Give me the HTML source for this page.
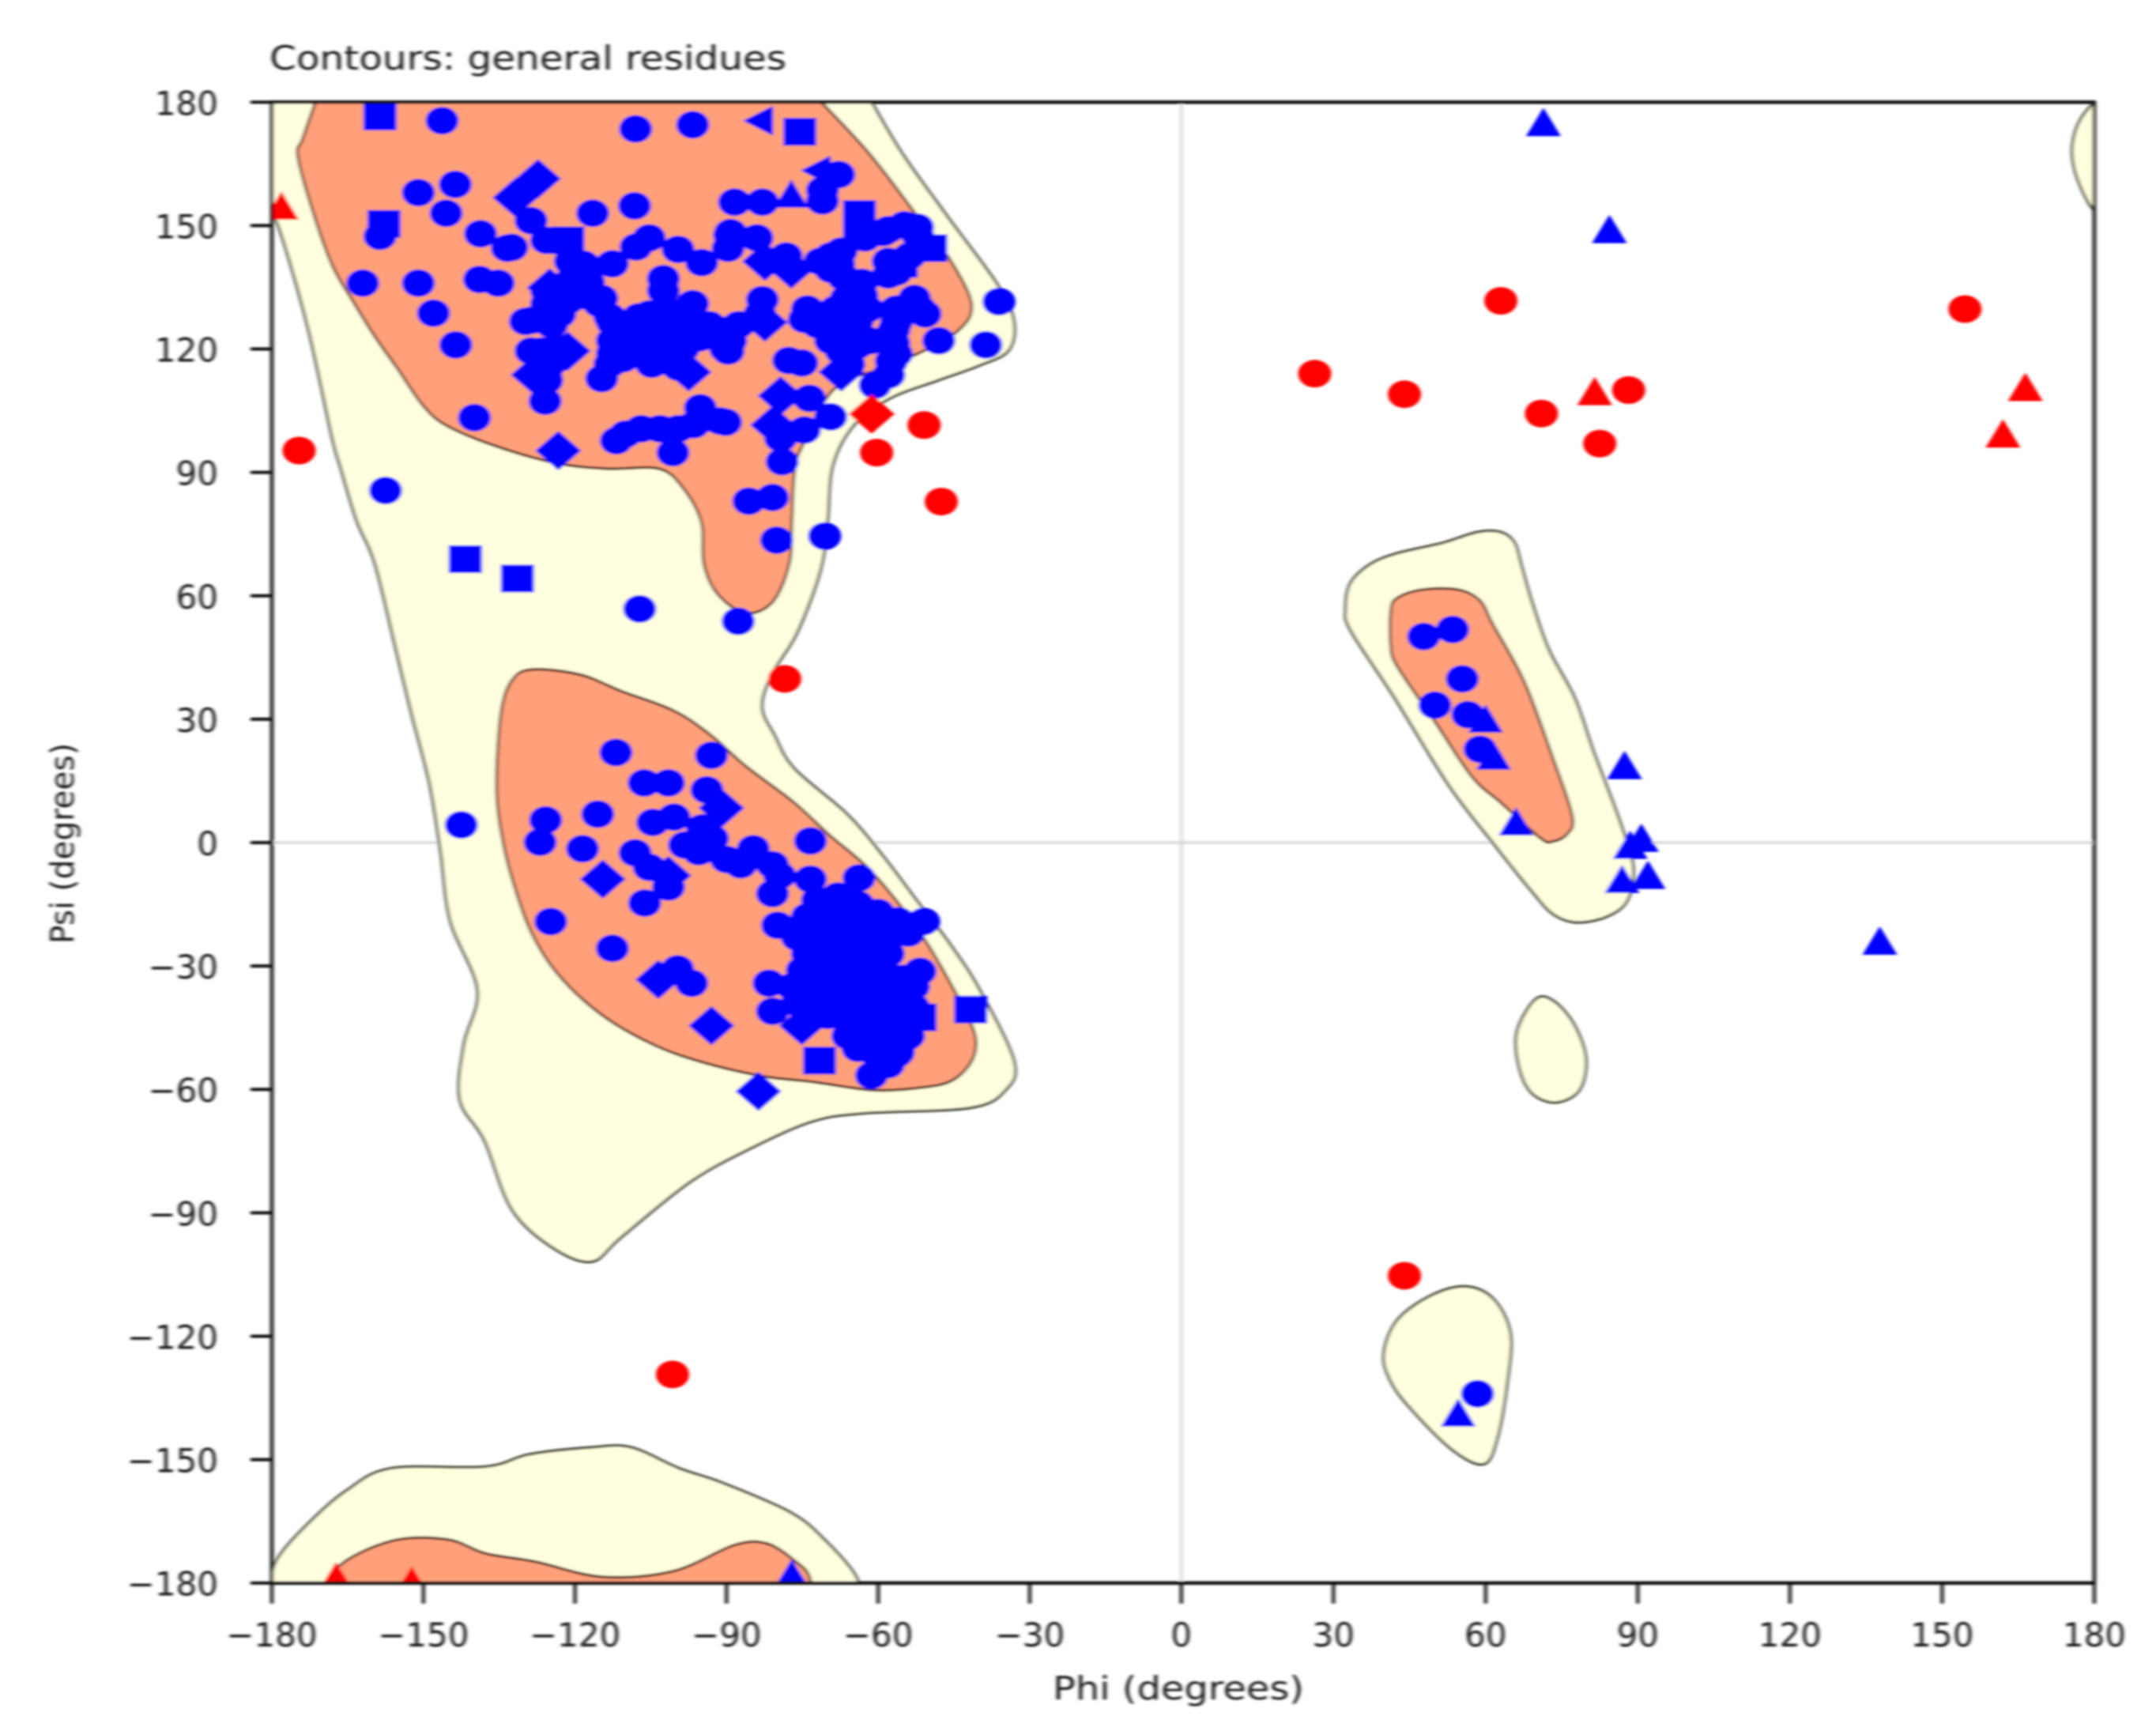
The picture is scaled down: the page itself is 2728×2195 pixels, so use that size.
<!DOCTYPE html>
<html lang="en">
<head>
<meta charset="utf-8">
<title>Ramachandran plot - general residues</title>
<style>
html,body{margin:0;padding:0;background:#fff;width:2728px;height:2195px;overflow:hidden}
svg{display:block}
text{font-family:"DejaVu Sans","Liberation Sans",sans-serif;fill:#1c1c1c}
</style>
</head>
<body>
<svg id="chart" xmlns="http://www.w3.org/2000/svg" width="2728" height="2195" viewBox="0 0 2728 2195">
<defs>
<filter id="soft" x="0" y="0" width="2728" height="2195" filterUnits="userSpaceOnUse"><feGaussianBlur stdDeviation="2 1.3"/></filter>
<clipPath id="plot-clip"><rect x="344" y="129" width="2306" height="1873"/></clipPath>
</defs>
<g id="root" filter="url(#soft)">
<text x="341" y="88" font-size="42" textLength="654" lengthAdjust="spacingAndGlyphs">Contours: general residues</text>
<text x="1491" y="2150" font-size="41" text-anchor="middle" textLength="318" lengthAdjust="spacingAndGlyphs">Phi (degrees)</text>
<text transform="translate(93,1067) rotate(-90)" font-size="41" text-anchor="middle" textLength="254" lengthAdjust="spacingAndGlyphs">Psi (degrees)</text>
<g id="grid"></g>
<g id="contours" clip-path="url(#plot-clip)"></g>
<g id="points" clip-path="url(#plot-clip)"></g>
<g id="axes"></g>
</g>
</svg>
<script>
// ---------- axis ticks ----------
const phiTicks = [-180,-150,-120,-90,-60,-30,0,30,60,90,120,150,180];
const psiTicks = [-180,-150,-120,-90,-60,-30,0,30,60,90,120,150,180];

// ---------- contour outlines, [phi, psi] ----------
const outerMain = [[-64,186],[-55.7,168.4],[-46.2,152.1],[-36.4,135.7],[-33.1,126.7],[-34.2,119.6],[-39.9,116],[-48.3,112.3],[-57.8,107.9],[-64.9,101.3],[-69,91.6],[-70,78.2],[-71.4,66.2],[-76,51.1],[-81,41],[-83,33],[-80.5,26],[-76.6,18],[-66.2,7],[-59.2,-3],[-52.4,-14],[-45.6,-25],[-39.9,-35.8],[-33.1,-53.1],[-34.8,-60.2],[-41.8,-64.5],[-62.7,-65.8],[-73,-67.8],[-85,-74.2],[-97.2,-82.5],[-110.8,-95.9],[-116.7,-101.9],[-124.3,-98.6],[-132.5,-89.2],[-137.9,-72.5],[-142.8,-62.5],[-142,-49.1],[-139.3,-35.8],[-144.7,-19],[-146.6,-2.3],[-148.8,14.4],[-152.3,31.1],[-155.6,47.8],[-159.6,67.8],[-163.2,78.2],[-166.4,91.2],[-168.1,98.6],[-172.9,125.3],[-178.6,149.4],[-181.4,154.7],[-186,170],[-186,186]];
const outerBottom = [[-186,-186],[-181.4,-182.8],[-178.9,-174.1],[-172.7,-165.4],[-165.1,-157.4],[-156.4,-152.1],[-137.7,-151.7],[-129,-148.7],[-116.7,-147],[-108.9,-147],[-99.4,-152.1],[-90.7,-155.7],[-77.4,-162.8],[-70.9,-169.1],[-64.3,-178.5],[-63.3,-186]];
const outerTopRight = [[183,184],[177.6,176.5],[175.7,169.8],[176.2,163.1],[178.9,155.4],[182,151]];
const outerLeftHand = [[33.3,63],[37,67.5],[42.1,70.2],[51.6,72.9],[58.4,75.5],[63,75.5],[65.7,72.9],[67.1,67.2],[69.2,58.2],[72.5,46.8],[77.6,35.1],[81.2,22.4],[86.3,5.7],[89.1,-5.7],[88,-14],[83.9,-18],[77.9,-19.4],[73.3,-17.4],[69.2,-12],[61.4,0],[52.7,14],[42.1,35.1],[33.4,51.5],[32.4,57]];
const outerSmallIsland = [[69.8,-38.1],[73.3,-38.4],[77.4,-44.1],[79.8,-52.5],[78.5,-60.2],[73.8,-63.2],[69,-60.8],[66.5,-54.1],[66.2,-45.8]];
const outerLowerIsland = [[39.9,-124.3],[42.6,-116],[49.4,-110],[56.2,-107.9],[61.6,-111],[64.9,-119.3],[64.3,-131],[62.4,-144.4],[59.7,-151.1],[53.5,-147.7],[45.3,-137.7],[41.3,-131]];
const coreBeta = [[-76,186],[-62.4,168.4],[-51.9,151.7],[-45.6,141.4],[-41.5,130.7],[-44.3,124.3],[-51.9,119],[-59.2,115.3],[-68.7,110.3],[-75.2,95.9],[-76.6,89.6],[-77.1,77.9],[-77.6,67.8],[-80.9,58.5],[-86.3,55.8],[-91.8,60.5],[-94.5,67.8],[-95,77.9],[-98.6,86.2],[-103.4,90.9],[-113.5,90.9],[-123.5,92.2],[-135.2,96.2],[-145.3,101.3],[-150.1,106.3],[-155,115],[-159.6,123],[-164.3,132.3],[-167.8,139.7],[-171,150.1],[-174.8,166.4],[-173.8,171.4],[-170.5,182.8],[-169,186]];
const coreAlpha = [[-128.4,42.1],[-132.5,39.4],[-134.7,31.1],[-135.5,12.7],[-134.1,-0.7],[-131.7,-11.7],[-128.4,-22.4],[-123.3,-32.1],[-114.8,-41.8],[-104.5,-49.1],[-94.5,-53.5],[-82.8,-56.8],[-72.8,-58.2],[-60.8,-60.2],[-51,-59.5],[-45.3,-57.8],[-41.5,-53.1],[-40.7,-47.5],[-42.9,-40.8],[-45.3,-35.1],[-49.7,-25.7],[-54.3,-17.4],[-61.9,-6.3],[-69.8,2],[-76.6,9.7],[-86.3,18.7],[-93.1,26.1],[-100.5,32.1],[-110.8,36.8],[-118.9,40.8]];
const coreBottom = [[-168.3,-186],[-167.2,-176.5],[-156.4,-169.8],[-145.3,-169.4],[-137.7,-172.8],[-127.9,-174.8],[-114.6,-178.5],[-100.5,-177.1],[-88.5,-170.8],[-82,-170.4],[-76.3,-174.8],[-73.6,-178.5],[-72.8,-186]];
const coreLeftHand = [[41.3,56.5],[42.6,59.5],[47.5,61.5],[54.6,61.5],[58.9,58.8],[61.4,53.1],[67.6,39.1],[73.3,20.4],[77.1,6.3],[76,2],[73.3,0.3],[70.9,1],[63,9.7],[57.3,16],[50,29.4],[42.6,42.8],[41.3,47.8]];

// ---------- residues, [phi, psi] ----------
const blueCircleBeta = [[-146.3,175.5],[-108,173.5],[-96.7,174.5],[-151,158],[-143.7,160],[-145.5,153],[-138.7,148],[-132.5,144.7],[-158.6,147.4],[-162,136],[-151,136],[-148,128.7],[-143.6,121],[-138.9,136.9],[-135.2,136],[-139.9,103.3],[-128.5,127],[-128.7,151.2],[-116.5,153],[-108.2,154.8],[-133.4,144.5],[-125.6,146.4],[-125.9,107.3],[-114.7,112.8],[-112.6,140.7],[-107.9,144.8],[-105.3,147],[-99.6,144.2],[-94.9,141],[-89.7,144.5],[-89.4,147.7],[-102.5,137.1],[-102.5,134.2],[-96.7,131],[-90.2,120.1],[-95.2,105.7],[-91.3,102.5],[-96.5,101.6],[-111.8,97.7],[-110,99.3],[-106.9,100.6],[-103.2,100.6],[-100.6,94.8],[-99.6,100.6],[-120.9,141.3],[-118.8,136.8],[-114.7,132.3],[-118.3,133],[-125.6,131],[-123,128.5],[-112.6,126.5],[-112.6,122],[-112,117.6],[-124,120],[-126.6,119.5],[-125.6,115],[-125.6,112.4],[-107.4,125.3],[-104.8,124],[-102.2,127.8],[-104.8,116.9],[-100.6,118.9],[-98.6,120.1],[-99.6,115.6],[-96.5,125.3],[-94.4,125.9],[-91.3,124.6],[-129.8,126.7]];
const blueCircleBetaFill = [[-118.3,140.6],[-120.4,137.4],[-117.3,136.2],[-123,134.2],[-125.6,134.2],[-121.4,131.7],[-115.2,131],[-113.1,127.8],[-124.6,125.9],[-112.1,122.7],[-112.6,118.9],[-110.5,117.6],[-113.1,116.3],[-123.5,117.6],[-127.2,118.9],[-122,120.1],[-128.7,119.5],[-126.6,112.4],[-110,125.3],[-107.4,127.8],[-105.3,128.5],[-103.2,126.5],[-101.2,129.1],[-99.6,125.3],[-97.5,127.2],[-102.2,122.7],[-104.8,120.1],[-102.7,118.9],[-98,121.4],[-101.2,116.9],[-104.8,116.3],[-95.4,122.7],[-93.4,125.9],[-89.2,124],[-87.6,125.9],[-107.4,121.4],[-109,118.9],[-110.5,122.7],[-74.6,127.2],[-72,125.9],[-68.4,129.7],[-69.4,122],[-67.3,119.5],[-64.2,120.8],[-61.6,122],[-66.3,132.3],[-63.2,136.2],[-66.8,137.4],[-67.8,140.6],[-71.5,141.3],[-62.6,147],[-59,148.3],[-54.8,150.2],[-52.2,149.6],[-58,141.3],[-53.8,142.6],[-56.4,138.7],[-58,138],[-56.4,129.7],[-52.8,132.3],[-50.7,128.5],[-56.9,124.6],[-56.4,118.8]];
const blueCircleBetaRight = [[-67.8,162.4],[-82.9,155.7],[-88.4,155.7],[-71,158.6],[-71,156],[-58,149],[-52.2,147.7],[-67.3,143.8],[-69.4,142.6],[-89.2,148.3],[-84,147],[-78.2,142.6],[-69.4,139.4],[-65.8,136.2],[-63.2,132.9],[-82.9,132],[-83.4,128.5],[-89.2,122],[-89.7,119.5],[-74,129.7],[-73,128.5],[-69.4,128.5],[-66.8,126.5],[-64.2,126.5],[-63.2,122],[-65.8,122],[-62.1,129.7],[-51.7,129.7],[-54.9,129.7],[-56.4,126.5],[-56.9,121.4],[-57.4,117],[-57.9,113.7],[-60.6,111.2],[-48,122],[-38.7,121],[-36.1,131.5],[-77.7,117.2],[-75.1,116.6],[-65.8,116.3],[-73.6,108],[-69.4,103.5],[-74.6,100.3],[-79.3,98.3],[-79,92.6],[-90.2,102.2],[-85.6,83],[-80.9,83.9],[-80.1,73.5],[-70.6,74.5],[-87.7,53.8],[-107.2,56.8],[-157.5,85.6]];
const blueCircleAlpha = [[-111.9,21.9],[-93,21.2],[-106.3,14.5],[-101.5,14.5],[-93.9,12.8],[-115.5,6.9],[-125.8,5.5],[-126.9,0.1],[-118.5,-1.5],[-104.6,4.9],[-100.4,6.2],[-94.8,3.6],[-98.3,-0.6],[-95.5,-2.2],[-92.8,1],[-108.1,-2.5],[-105.3,-6],[-90,-4.1],[-87.2,-5.4],[-84.7,-1.5],[-80.9,-5.4],[-79.5,-8],[-73.4,0.4],[-73.4,-8.9],[-80.9,-12.4],[-63.8,-8.6],[-79.9,-20.1],[-101.5,-10.8],[-106.2,-14.7],[-124.8,-19.2],[-112.6,-25.7],[-99.7,-30.7],[-96.9,-34.2],[-81.6,-34.2],[-80.9,-41],[-51,-19.2],[-51.7,-31.3],[-142.5,4.3]];
const blueCircleHelixCore = [[-72,-14],[-68,-13],[-64,-15],[-60,-17],[-56,-19],[-74,-18],[-70,-17],[-66,-19],[-62,-21],[-58,-22],[-54,-22],[-76,-23],[-72,-22],[-68,-23],[-64,-24],[-60,-25],[-74,-27],[-70,-26],[-66,-27],[-62,-28],[-58,-27],[-75,-31],[-71,-30],[-67,-31],[-63,-32],[-59,-31],[-55,-33],[-77,-35],[-73,-34],[-69,-35],[-65,-36],[-61,-35],[-57,-37],[-53,-35],[-76,-39],[-72,-38],[-68,-39],[-64,-40],[-60,-39],[-56,-41],[-53,-40],[-74,-43],[-70,-42],[-66,-43],[-62,-44],[-58,-44],[-54,-45],[-66,-47],[-62,-48],[-58,-48],[-54,-47],[-64,-50],[-60,-52],[-56,-51],[-61.3,-56.6],[-58,-54],[-56.4,-51.5],[-54.8,-47.7]];
const blueCircleRight = [[47.8,50.1],[53.5,51.8],[55.4,39.8],[50,33.4],[56.5,31.1],[58.9,22.7],[58.4,-134]];
const blueSquares = [[-158.6,176.5],[-75.5,172.8],[-157.8,150.4],[-121.4,146.4],[-63.7,152.8],[-63.7,149.6],[-49.6,144.5],[-55.4,140.7],[-141.7,68.9],[-131.4,64.2],[-71.6,-53],[-41.7,-40.6],[-51.7,-42.5]];
const blueDiamonds = [[-127.3,161.4],[-131.8,156.8],[-125,134.9],[-121.4,119.5],[-128.2,113.7],[-97.5,114.4],[-123.3,95.3],[-77.2,139.4],[-82.4,141.3],[-82.4,126.5],[-67.3,114.4],[-79.3,108.6],[-80.8,101.5],[-91,8.4],[-101.5,-8],[-114.5,-8.9],[-103.5,-33.3],[-93,-44.5],[-83.7,-60.5],[-75.1,-44.5]];
const blueTriangles = [[-77.2,157.6],[60,30],[61.6,21],[66,5],[87.4,18.7],[88.5,-0.7],[90.7,1],[86.9,-9],[92,-8],[137.7,-24],[71.4,175],[84.4,149],[54.6,-138.7],[-77.1,-177.8]];
const blueLeftTriangles = [[-83.6,175.5],[-72.2,163.4]];
const redCircles = [[-174.6,95.3],[-78.5,39.8],[-47.5,82.9],[63,131.7],[26.3,114],[44,109],[71,104.3],[88.2,110],[82.5,97],[154.5,129.7],[44,-105.3],[-100.7,-129.3],[-50.9,101.5],[-60.3,94.8]];
const redTriangles = [[81.5,109.6],[166.4,110.6],[162,99.3],[-178.1,154.7],[-167.3,-178.5],[-152.3,-179.5]];
const redDiamonds = [[-61.3,104.2]];

// ---------- axis functions ----------
function xPos(phi){ return 1494.7 + phi * (phi < 0 ? 6.393 : 6.418); }
function yPos(psi){ return 1066 - psi * 5.204; }

const NS = 'http://www.w3.org/2000/svg';
function make(tag, parent, attrs){
  const el = document.createElementNS(NS, tag);
  Object.keys(attrs).forEach(function(k){ el.setAttribute(k, attrs[k]); });
  parent.appendChild(el);
  return el;
}

// smooth outline through the contour vertices; open outlines close with a straight edge outside the plot
function smoothPath(pts, closed){
  const p = pts.map(function(d){ return [xPos(d[0]), yPos(d[1])]; });
  const n = p.length;
  let d = 'M' + p[0][0].toFixed(1) + ' ' + p[0][1].toFixed(1);
  const last = closed ? n : n - 1;
  for (let i = 0; i < last; i++){
    const b = p[i], c = p[(i + 1) % n];
    const a = closed ? p[(i - 1 + n) % n] : (i > 0 ? p[i - 1] : b);
    const e = closed ? p[(i + 2) % n] : (i + 2 < n ? p[i + 2] : c);
    const c1x = b[0] + (c[0] - a[0]) / 6, c1y = b[1] + (c[1] - a[1]) / 6;
    const c2x = c[0] - (e[0] - b[0]) / 6, c2y = c[1] - (e[1] - b[1]) / 6;
    d += 'C' + c1x.toFixed(1) + ' ' + c1y.toFixed(1) + ' ' + c2x.toFixed(1) + ' ' + c2y.toFixed(1) + ' ' + c[0].toFixed(1) + ' ' + c[1].toFixed(1);
  }
  return d + 'Z';
}

const grid = document.getElementById('grid');
const gridV = make('line', grid, {x1:xPos(0), x2:xPos(0), y1:yPos(180), y2:yPos(-180), stroke:'#d9d9d9', 'stroke-width':3.5});


const gridH = make('line', grid, {x1:xPos(-180), x2:xPos(180), y1:yPos(0), y2:yPos(0), stroke:'#d9d9d9', 'stroke-width':3.5});



const contourLayer = document.getElementById('contours');
function drawContour(pts, closed, fill, stroke, width, name){
  const el = make('path', contourLayer, {d:smoothPath(pts, closed), fill:fill, stroke:stroke, 'stroke-width':width, 'stroke-linejoin':'round'});
  
  
}
const YELLOW = '#fffede', ORANGE = '#ffa07a', OUT = '#4d4d40', IN = '#5a3322';
drawContour(outerMain, false, YELLOW, OUT, 3.4, 'allowed-region-main');
drawContour(outerBottom, false, YELLOW, OUT, 3.4, 'allowed-region-bottom');
drawContour(outerTopRight, false, YELLOW, OUT, 3.4, 'allowed-region-top-right');
drawContour(outerLeftHand, true, YELLOW, OUT, 3.4, 'allowed-region-left-handed');
drawContour(outerSmallIsland, true, YELLOW, OUT, 3.4, 'allowed-region-island');
drawContour(outerLowerIsland, true, YELLOW, OUT, 3.4, 'allowed-region-lower');
drawContour(coreBeta, false, ORANGE, IN, 3.4, 'favoured-region-beta');
drawContour(coreAlpha, true, ORANGE, IN, 3.4, 'favoured-region-alpha');
drawContour(coreBottom, false, ORANGE, IN, 3.4, 'favoured-region-bottom');
drawContour(coreLeftHand, true, ORANGE, IN, 3.4, 'favoured-region-left-handed');

const pointLayer = document.getElementById('points');
function drawCircles(list, color, name){
  list.forEach(function(d){
    const el = make('ellipse', pointLayer, {cx:xPos(d[0]), cy:yPos(d[1]), rx:21, ry:17.5, fill:color});
    
    
  });
}
function drawSquares(list, color, name){
  list.forEach(function(d){
    const el = make('rect', pointLayer, {x:xPos(d[0]) - 21, y:yPos(d[1]) - 17.5, width:42, height:35, fill:color});
    
    
  });
}
function drawPoly(list, color, shape, name){
  list.forEach(function(d){
    const cx = xPos(d[0]), cy = yPos(d[1]);
    const pts = shape.map(function(s){ return (cx + s[0]).toFixed(1) + ',' + (cy + s[1]).toFixed(1); }).join(' ');
    const el = make('polygon', pointLayer, {points:pts, fill:color});
    
    
  });
}
const DIAMOND = [[0,-25],[29,0],[0,25],[-29,0]];
const TRI_UP = [[0,-19],[22,17],[-22,17]];
const TRI_LEFT = [[-20,0],[18,-19],[18,19]];

drawCircles(blueCircleBeta, '#0000ff', 'blue-circle-residue');
drawCircles(blueCircleBetaFill, '#0000ff', 'blue-circle-residue');
drawCircles(blueCircleBetaRight, '#0000ff', 'blue-circle-residue');
drawCircles(blueCircleAlpha, '#0000ff', 'blue-circle-residue');
drawCircles(blueCircleHelixCore, '#0000ff', 'blue-circle-residue');
drawCircles(blueCircleRight, '#0000ff', 'blue-circle-residue');
drawSquares(blueSquares, '#0000ff', 'blue-square-residue');
drawPoly(blueDiamonds, '#0000ff', DIAMOND, 'blue-diamond-residue');
drawPoly(blueTriangles, '#0000ff', TRI_UP, 'blue-triangle-residue');
drawPoly(blueLeftTriangles, '#0000ff', TRI_LEFT, 'blue-left-triangle-residue');
drawCircles(redCircles, '#ff0000', 'red-circle-residue');
drawPoly(redTriangles, '#ff0000', TRI_UP, 'red-triangle-residue');
drawPoly(redDiamonds, '#ff0000', DIAMOND, 'red-diamond-residue');

// ---------- spines, ticks, tick labels ----------
const axes = document.getElementById('axes');
const frame = make('rect', axes, {x:xPos(-180), y:yPos(180), width:xPos(180) - xPos(-180), height:yPos(-180) - yPos(180), fill:'none', stroke:'#111', 'stroke-width':4.4});


function tickText(v){ return v < 0 ? '\u2212' + Math.abs(v) : String(v); }
phiTicks.forEach(function(v){
  const px = xPos(v);
  const t = make('line', axes, {x1:px, x2:px, y1:yPos(-180), y2:yPos(-180) + 26, stroke:'#111', 'stroke-width':4});
  
  
  const l = make('text', axes, {x:px, y:2083, 'font-size':42, 'text-anchor':'middle'});
  l.textContent = tickText(v);
  
  
});
psiTicks.forEach(function(v){
  const py = yPos(v);
  const t = make('line', axes, {x1:xPos(-180) - 27, x2:xPos(-180), y1:py, y2:py, stroke:'#111', 'stroke-width':4});
  
  
  const l = make('text', axes, {x:276, y:py + 16, 'font-size':42, 'text-anchor':'end'});
  l.textContent = tickText(v);
  
  
});
</script>
</body>
</html>
